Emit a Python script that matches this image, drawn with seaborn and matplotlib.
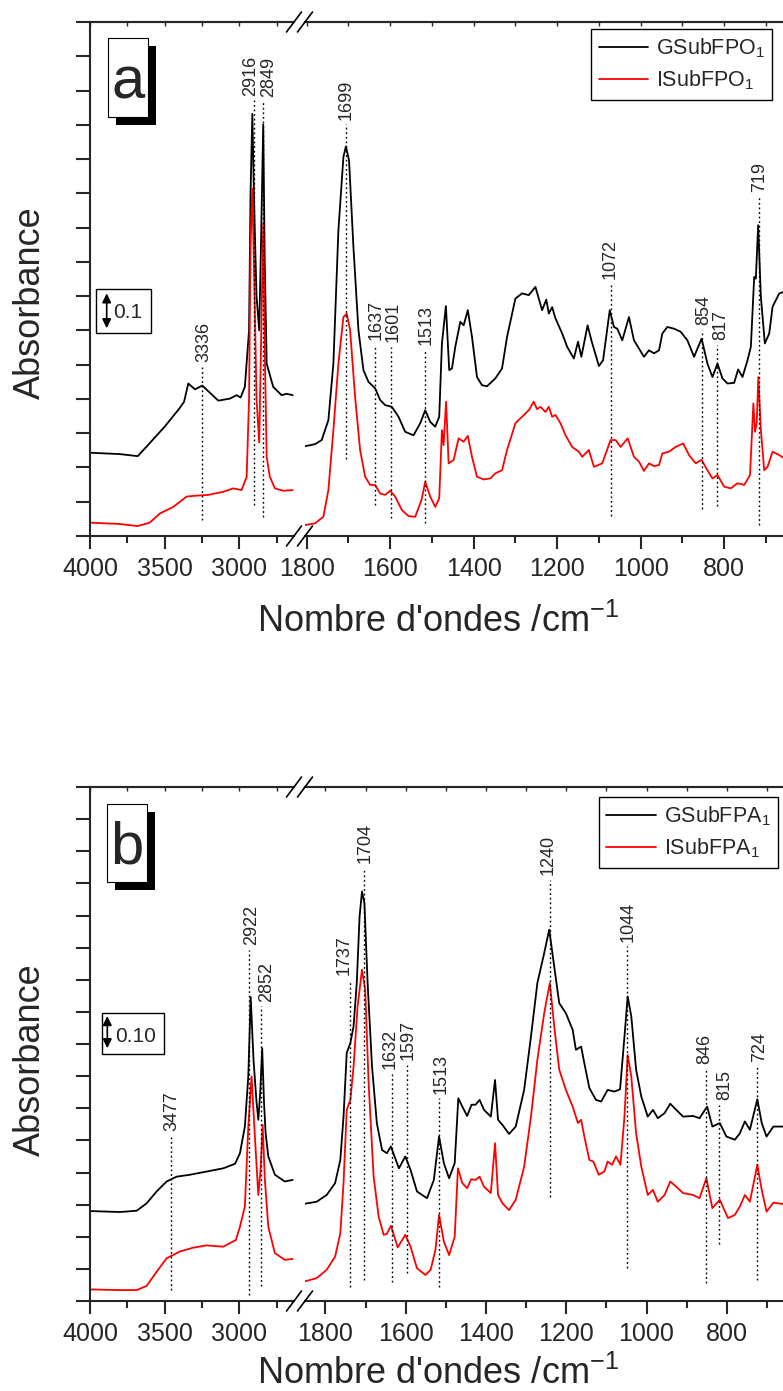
import numpy as np
import pandas as pd
import matplotlib
matplotlib.use("Agg")
import matplotlib.pyplot as plt
import seaborn as sns
from matplotlib.lines import Line2D
from matplotlib.patches import Rectangle, FancyArrowPatch

# ---------------- DATA ----------------
# Panel a : GSubFPO1 (black) / ISubFPO1 (red)
a_G_left_wn = [4000, 3800, 3680, 3600, 3500, 3400, 3370, 3342, 3297, 3248, 3141, 3063, 3018, 2992,
               2963, 2935, 2925, 2913, 2900, 2885, 2867, 2855, 2840, 2830, 2817, 2773, 2717, 2684, 2643]
a_G_left_A = [0.243, 0.239, 0.233, 0.271, 0.319, 0.373, 0.392, 0.445, 0.428, 0.439, 0.395, 0.401, 0.411, 0.404,
              0.435, 0.60, 1.00, 1.232, 0.95, 0.70, 0.60, 0.85, 1.201, 0.80, 0.503, 0.435, 0.411, 0.415, 0.411]
a_I_left_wn = [4000, 3800, 3680, 3600, 3531, 3442, 3353, 3309, 3208, 3108, 3041, 2985, 2951, 2935,
               2925, 2913, 2900, 2885, 2867, 2855, 2840, 2830, 2817, 2796, 2762, 2706, 2643]
a_I_left_A = [0.039, 0.035, 0.029, 0.039, 0.066, 0.085, 0.115, 0.117, 0.120, 0.129, 0.139, 0.134, 0.173, 0.40,
              0.85, 1.014, 0.75, 0.40, 0.273, 0.55, 0.912, 0.55, 0.231, 0.173, 0.139, 0.132, 0.134]

a_G_right_wn = [1804, 1780, 1764, 1748, 1736, 1724, 1712, 1706, 1698.5, 1688, 1676, 1664, 1652, 1636, 1624,
                1612, 1596, 1580, 1564, 1544, 1528, 1516, 1504, 1492, 1482.5, 1476, 1466.5, 1458.5, 1452,
                1444, 1432, 1424, 1414, 1404, 1392, 1380, 1368, 1348, 1332, 1320, 1300, 1284, 1268, 1252,
                1236, 1226, 1220, 1212, 1204, 1188, 1176, 1160, 1150, 1142, 1127, 1118, 1100, 1090, 1074,
                1064, 1056, 1044, 1028, 1016, 1004, 992, 980, 968, 956, 948, 936, 920, 904, 888, 872, 854,
                840, 828, 816, 804, 792, 776, 766.5, 756, 744, 736, 728, 724, 718.5, 712, 702.5, 692, 684,
                668, 657]
a_G_right_A = [0.262, 0.268, 0.280, 0.338, 0.503, 0.892, 1.106, 1.137, 1.096, 0.843, 0.601, 0.484, 0.450, 0.431,
               0.397, 0.382, 0.377, 0.348, 0.304, 0.294, 0.329, 0.367, 0.333, 0.319, 0.348, 0.562, 0.671, 0.484,
               0.489, 0.552, 0.625, 0.615, 0.659, 0.581, 0.464, 0.440, 0.437, 0.460, 0.489, 0.581, 0.693, 0.708,
               0.703, 0.727, 0.659, 0.690, 0.649, 0.668, 0.635, 0.591, 0.552, 0.518, 0.567, 0.523, 0.615, 0.571,
               0.496, 0.513, 0.659, 0.610, 0.605, 0.571, 0.639, 0.571, 0.547, 0.523, 0.542, 0.533, 0.542, 0.591,
               0.610, 0.605, 0.596, 0.571, 0.523, 0.576, 0.503, 0.464, 0.503, 0.460, 0.445, 0.447, 0.486, 0.464,
               0.513, 0.552, 0.756, 0.751, 0.907, 0.698, 0.562, 0.591, 0.669, 0.708, 0.712]
a_I_right_wn = [1804, 1780, 1760, 1748, 1736, 1724, 1712, 1704, 1696, 1684, 1672, 1660, 1648, 1636, 1624,
                1612, 1600, 1588, 1572, 1556, 1540, 1525, 1516, 1504, 1492, 1482.5, 1476, 1472, 1470, 1466,
                1460, 1448, 1436, 1424, 1414, 1404, 1392, 1376, 1360, 1348, 1332, 1320, 1300, 1284, 1268,
                1256, 1248, 1240, 1228, 1220, 1212, 1204, 1192, 1180, 1164, 1148, 1140, 1124, 1112, 1092,
                1072, 1060, 1048, 1031, 1016, 1004, 992, 980, 968, 956, 948, 932, 916, 898, 884, 868, 854,
                840, 828, 816, 800, 784, 768, 752, 738, 730, 726, 722, 718, 712, 704, 696, 684, 668, 657]
a_I_right_A = [0.032, 0.037, 0.056, 0.134, 0.309, 0.503, 0.639, 0.649, 0.601, 0.406, 0.251, 0.173, 0.149, 0.149,
               0.124, 0.120, 0.132, 0.115, 0.076, 0.058, 0.056, 0.105, 0.158, 0.115, 0.085, 0.110, 0.309, 0.265,
               0.309, 0.392, 0.212, 0.222, 0.285, 0.275, 0.292, 0.231, 0.173, 0.165, 0.168, 0.183, 0.192, 0.251,
               0.329, 0.348, 0.367, 0.392, 0.370, 0.377, 0.362, 0.377, 0.348, 0.353, 0.329, 0.294, 0.260, 0.246,
               0.231, 0.251, 0.202, 0.212, 0.280, 0.280, 0.260, 0.285, 0.231, 0.217, 0.190, 0.212, 0.204, 0.207,
               0.241, 0.246, 0.260, 0.270, 0.236, 0.212, 0.222, 0.192, 0.168, 0.178, 0.144, 0.139, 0.154, 0.149,
               0.178, 0.387, 0.304, 0.329, 0.464, 0.309, 0.192, 0.202, 0.246, 0.236, 0.227]

# Panel b : GSubFPA1 (black) / ISubFPA1 (red)
b_G_left_wn = [4000, 3799, 3687, 3621, 3554, 3487, 3420, 3331, 3219, 3108, 3029, 2996, 2963, 2940, 2924,
               2905, 2885, 2873, 2860, 2847, 2835, 2824, 2806, 2762, 2695, 2643]
b_G_left_A = [0.280, 0.277, 0.281, 0.304, 0.341, 0.372, 0.387, 0.393, 0.403, 0.413, 0.427, 0.460, 0.543, 0.70,
              0.946, 0.75, 0.62, 0.564, 0.65, 0.787, 0.62, 0.522, 0.450, 0.393, 0.372, 0.377]
b_I_left_wn = [4000, 3799, 3687, 3621, 3554, 3487, 3398, 3309, 3219, 3108, 3023, 2996, 2963, 2940, 2918,
               2896, 2873, 2858, 2844, 2829, 2806, 2762, 2695, 2643]
b_I_left_A = [0.036, 0.034, 0.034, 0.047, 0.091, 0.133, 0.154, 0.166, 0.173, 0.169, 0.190, 0.231, 0.294, 0.543,
              0.699, 0.512, 0.330, 0.408, 0.548, 0.377, 0.231, 0.149, 0.128, 0.131]

b_G_right_wn = [1855, 1822, 1797, 1776, 1763, 1755, 1747, 1738, 1730, 1722, 1715, 1709, 1703, 1695, 1684,
                1672, 1659, 1647, 1637, 1617, 1601, 1588, 1572, 1547, 1530, 1517, 1505, 1492, 1478, 1469,
                1459, 1447, 1436, 1426, 1416, 1405, 1388, 1377.5, 1370, 1359, 1342.5, 1326, 1305, 1288,
                1272, 1255, 1242.5, 1230, 1217.5, 1201, 1184, 1176, 1163, 1155, 1142.5, 1126, 1113, 1097,
                1080, 1066, 1055, 1047, 1038, 1026, 1013, 997, 984, 972, 955, 941, 926, 909, 884, 868, 849,
                836, 817.5, 801, 780, 767.5, 755, 742.5, 724, 713, 701, 684, 660]
b_G_right_A = [0.302, 0.309, 0.330, 0.367, 0.439, 0.574, 0.772, 0.803, 0.855, 0.990, 1.197, 1.275, 1.239, 0.990,
               0.730, 0.554, 0.470, 0.460, 0.481, 0.413, 0.450, 0.408, 0.341, 0.320, 0.377, 0.512, 0.429, 0.382,
               0.429, 0.631, 0.605, 0.576, 0.611, 0.611, 0.626, 0.595, 0.574, 0.688, 0.564, 0.548, 0.520, 0.543,
               0.657, 0.823, 0.990, 1.083, 1.156, 1.041, 0.927, 0.896, 0.844, 0.782, 0.792, 0.740, 0.663, 0.626,
               0.621, 0.657, 0.652, 0.659, 0.823, 0.948, 0.886, 0.720, 0.636, 0.574, 0.595, 0.569, 0.585, 0.614,
               0.595, 0.574, 0.576, 0.569, 0.605, 0.543, 0.554, 0.512, 0.502, 0.522, 0.559, 0.533, 0.628, 0.554,
               0.512, 0.543, 0.543]
b_I_right_wn = [1855, 1822, 1797, 1776, 1763, 1755, 1747, 1738, 1730, 1720, 1709, 1701, 1692.5, 1680, 1667.5,
                1655, 1647, 1637, 1620, 1601, 1588, 1572, 1551, 1538, 1526, 1517, 1505, 1492, 1478, 1470,
                1459, 1447, 1437, 1426, 1416, 1405, 1388, 1377.5, 1370, 1359, 1342.5, 1326, 1305, 1288,
                1272, 1255, 1241, 1230, 1217.5, 1201, 1184, 1171, 1163, 1155, 1142.5, 1132.5, 1119, 1105,
                1097, 1086, 1076, 1065, 1055, 1047, 1038, 1026, 1013, 997, 984, 972, 955, 941, 926, 909, 884,
                868, 851, 836, 817.5, 797, 780, 767.5, 755, 742.5, 724, 713, 701, 684, 660]
b_I_right_A = [0.060, 0.071, 0.097, 0.138, 0.211, 0.367, 0.595, 0.626, 0.730, 0.917, 1.031, 0.969, 0.678, 0.387,
               0.263, 0.206, 0.209, 0.234, 0.167, 0.206, 0.169, 0.102, 0.081, 0.097, 0.159, 0.268, 0.185, 0.143,
               0.200, 0.413, 0.367, 0.351, 0.379, 0.377, 0.387, 0.356, 0.336, 0.491, 0.330, 0.304, 0.283, 0.315,
               0.418, 0.574, 0.751, 0.896, 0.990, 0.855, 0.720, 0.657, 0.605, 0.554, 0.564, 0.512, 0.439, 0.434,
               0.393, 0.403, 0.434, 0.424, 0.450, 0.424, 0.574, 0.766, 0.699, 0.522, 0.418, 0.330, 0.346, 0.309,
               0.330, 0.372, 0.356, 0.336, 0.330, 0.320, 0.382, 0.289, 0.315, 0.258, 0.268, 0.294, 0.330, 0.309,
               0.424, 0.346, 0.278, 0.306, 0.302]

# Peak annotations: label, line position, label position, line bottom, line top
a_ann_labels = ["3336", "2916", "2849", "1699", "1637", "1601", "1513", "1072", "854", "817", "719"]
a_ann_line_x = [3252, 2902, 2840, 1706, 1636, 1598, 1516, 1072, 852, 816, 716]
a_ann_text_x = [3240, 2924, 2802, 1706, 1634, 1592, 1514, 1074, 848, 808, 716]
a_ann_bottom = [0.047, 0.090, 0.054, 0.226, 0.090, 0.052, 0.039, 0.058, 0.078, 0.087, 0.032]
a_ann_top = [0.493, 1.271, 1.266, 1.201, 0.557, 0.552, 0.542, 0.735, 0.601, 0.557, 0.989]

b_ann_labels = ["3477", "2922", "2852", "1737", "1704", "1632", "1597", "1513", "1240", "1044", "846", "815", "724"]
b_ann_line_x = [3460, 2933, 2857, 1738, 1705, 1634, 1597, 1516, 1240, 1049, 851, 819, 726]
b_ann_text_x = [3453, 2920, 2818, 1753, 1700, 1640, 1593, 1513, 1244, 1046, 855, 805, 718]
b_ann_bottom = [0.034, 0.019, 0.047, 0.045, 0.065, 0.060, 0.086, 0.043, 0.325, 0.102, 0.057, 0.177, 0.065]
b_ann_top = [0.514, 1.093, 0.917, 1.000, 1.348, 0.707, 0.735, 0.631, 1.312, 1.104, 0.725, 0.611, 0.730]

left_major = [4000, 3500, 3000]
left_minor = [3750, 3250, 2750]
right_major = [1800, 1600, 1400, 1200, 1000, 800]
right_minor = [1700, 1500, 1300, 1100, 900, 700]

# ---------------- STYLE ----------------
sns.set_style("ticks")
plt.rcParams["font.family"] = ["Liberation Sans", "DejaVu Sans"]
plt.rcParams["mathtext.fontset"] = "custom"
plt.rcParams["mathtext.rm"] = "Liberation Sans"
plt.rcParams["mathtext.it"] = "Liberation Sans:italic"
plt.rcParams["mathtext.bf"] = "Liberation Sans:bold"

W, H = 783, 1391
fig = plt.figure(figsize=(W / 100, H / 100), dpi=100)


def fx(x):
    return x / W


def fy(y):
    return 1 - y / H


def make_df(wn_g, a_g, wn_i, a_i):
    return pd.concat([
        pd.DataFrame({"wn": wn_g, "A": a_g, "sample": "G"}),
        pd.DataFrame({"wn": wn_i, "A": a_i, "sample": "I"}),
    ], ignore_index=True)


panels = [
    dict(top=22, bottom=536, ymax=1.5, rxlim=(1804, 659),
         left=make_df(a_G_left_wn, a_G_left_A, a_I_left_wn, a_I_left_A),
         right=make_df(a_G_right_wn, a_G_right_A, a_I_right_wn, a_I_right_A),
         ann=(a_ann_labels, a_ann_line_x, a_ann_text_x, a_ann_bottom, a_ann_top),
         names=("GSubFPO$_1$", "ISubFPO$_1$"),
         letter="a", letter_box=(107.7, 38.3, 147.7, 116.7), letter_base=98.3,
         scale_box=(95.7, 289, 150.7, 333.3), arrow=(106.7, 293.3, 328.3), scale_txt="0.1",
         scale_txt_pos=(113, 318.3),
         legend_anchor=(772.3, 29), ylab_y=303, xlab_y=622),
    dict(top=787, bottom=1301, ymax=1.6, rxlim=(1851, 660),
         left=make_df(b_G_left_wn, b_G_left_A, b_I_left_wn, b_I_left_A),
         right=make_df(b_G_right_wn, b_G_right_A, b_I_right_wn, b_I_right_A),
         ann=(b_ann_labels, b_ann_line_x, b_ann_text_x, b_ann_bottom, b_ann_top),
         names=("GSubFPA$_1$", "ISubFPA$_1$"),
         letter="b", letter_box=(106.7, 804.3, 146.7, 882.3), letter_base=863.3,
         scale_box=(101.7, 1013.3, 164, 1054), arrow=(107.3, 1016, 1048.3), scale_txt="0.10",
         scale_txt_pos=(115, 1041.7),
         legend_anchor=(777.7, 796.7), ylab_y=1060, xlab_y=1374),
]

LX0, LX1, RX0, RX1 = 90, 294, 305, 783
palette = {"G": "black", "I": "red"}

for p in panels:
    top, bot = p["top"], p["bottom"]
    axL = fig.add_axes([fx(LX0), fy(bot), (LX1 - LX0) / W, (bot - top) / H])
    axR = fig.add_axes([fx(RX0), fy(bot), (RX1 - RX0) / W, (bot - top) / H])

    for ax, df, xlim, maj, mnr in [(axL, p["left"], (4000, 2634), left_major, left_minor),
                                   (axR, p["right"], p["rxlim"], right_major, right_minor)]:
        sns.lineplot(data=df, x="wn", y="A", hue="sample", hue_order=["G", "I"], palette=palette,
                     estimator=None, sort=False, legend=False, ax=ax, lw=1.3)
        ax.set_xlim(*xlim)
        ax.set_ylim(0, p["ymax"])
        ax.set_xticks(maj)
        ax.set_xticks(mnr, minor=True)
        ax.set_xlabel("")
        ax.set_ylabel("")
        ax.spines["right"].set_visible(False)
        for s in ["top", "bottom", "left"]:
            ax.spines[s].set_linewidth(1.5)
        ax.tick_params(axis="x", which="major", direction="out", length=9, width=1.5,
                       labelsize=18, pad=6, top=False)
        ax.tick_params(axis="x", which="minor", direction="out", length=5, width=1.5, top=False)
        sec = ax.secondary_xaxis("top")
        sec.set_xticks(maj)
        sec.set_xticks(mnr, minor=True)
        sec.tick_params(axis="x", which="both", direction="in", length=3, width=1, labeltop=False)
        sec.spines["top"].set_linewidth(1.5)
        ax.patch.set_alpha(0)

    axL.set_yticks(np.round(np.arange(0, p["ymax"] + 0.001, 0.1), 2))
    axL.set_yticklabels([])
    axL.tick_params(axis="y", direction="out", length=10, width=1.5)
    axR.spines["left"].set_visible(False)
    axR.set_yticks([])

    handles = list(axR.lines[:2])

    labels, lx, tx, yb, yt = p["ann"]
    for lab, x_line, x_txt, y0, y1 in zip(labels, lx, tx, yb, yt):
        ax = axL if x_line > 2000 else axR
        ax.plot([x_line, x_line], [y0, y1], color="black", lw=1.0, ls=(0, (1.3, 2.0)))
        ax.text(x_txt, y1 + 0.014, lab, rotation=90, ha="center", va="bottom", fontsize=13)

    # break marks
    for xe in (LX1, RX0):
        for ys in (top, bot):
            fig.add_artist(Line2D([fx(xe - 7.5), fx(xe + 7.5)], [fy(ys + 10), fy(ys - 10)],
                                  transform=fig.transFigure, color="black", lw=1.2))

    # letter box with shadow
    x0, y0, x1, y1 = p["letter_box"]
    fig.add_artist(Rectangle((fx(x0 + 8), fy(y1 + 8)), (x1 - x0) / W, (y1 - y0) / H,
                             transform=fig.transFigure, facecolor="black", edgecolor="black", lw=0))
    fig.add_artist(Rectangle((fx(x0), fy(y1)), (x1 - x0) / W, (y1 - y0) / H,
                             transform=fig.transFigure, facecolor="white", edgecolor="black", lw=0.8))
    fig.text(fx((x0 + x1) / 2), fy(p["letter_base"]), p["letter"], ha="center", va="baseline",
             fontsize=43)

    # scale bar box
    x0, y0, x1, y1 = p["scale_box"]
    fig.add_artist(Rectangle((fx(x0), fy(y1)), (x1 - x0) / W, (y1 - y0) / H,
                             transform=fig.transFigure, facecolor="white", edgecolor="black", lw=1.0))
    ax_x, ay0, ay1 = p["arrow"]
    fig.add_artist(FancyArrowPatch((fx(ax_x), fy(ay0)), (fx(ax_x), fy(ay1)), transform=fig.transFigure,
                                   arrowstyle="<|-|>,head_length=0.45,head_width=0.22", mutation_scale=12,
                                   color="black", lw=1.2, shrinkA=0, shrinkB=0))
    fig.text(fx(p["scale_txt_pos"][0]), fy(p["scale_txt_pos"][1]), p["scale_txt"], ha="left",
             va="baseline", fontsize=15)

    # legend
    fig.legend(handles, list(p["names"]), loc="upper right",
               bbox_to_anchor=(fx(p["legend_anchor"][0]), fy(p["legend_anchor"][1])),
               frameon=True, fancybox=False, edgecolor="black", framealpha=1, fontsize=15.5,
               handlelength=2.3, handletextpad=0.35, labelspacing=0.4, borderpad=0.35,
               borderaxespad=0).get_frame().set_linewidth(1.0)

    # axis labels
    fig.text(fx(30), fy(p["ylab_y"]), "Absorbance", rotation=90, ha="center", va="center", fontsize=26)
    fig.text(fx(438), fy(p["xlab_y"]), "Nombre d'ondes /cm$^{-1}$", ha="center", va="center", fontsize=26)

fig.savefig("out.png", dpi=100)
